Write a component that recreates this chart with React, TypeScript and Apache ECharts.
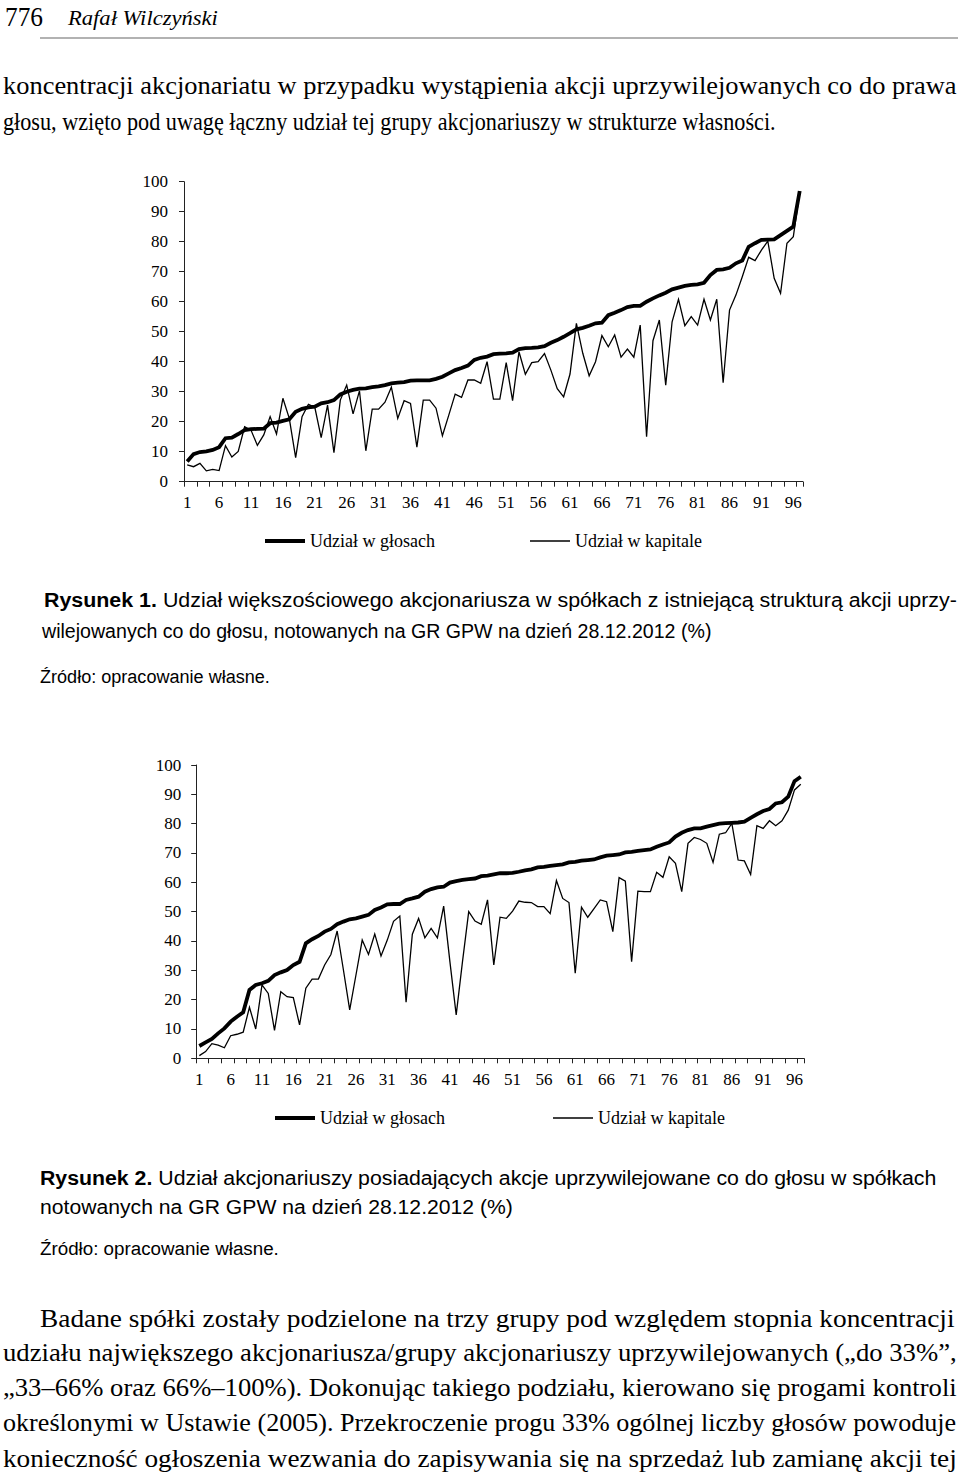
import React, { useEffect, useRef } from 'react';
import * as echarts from 'echarts';

// ---------- data ----------
const categories: string[] = Array.from({ length: 97 }, (_, i) => String(i + 1));

const votes1 = [
  6.7, 9.2, 9.9, 10.1, 10.6, 11.5, 14.5, 14.7, 15.9, 17.2, 17.5, 17.6, 17.7, 19.5, 19.7, 20.3, 20.8, 23.3, 24.3, 24.8,
  25.0, 26.1, 26.5, 27.2, 29.1, 30.0, 30.6, 31.0, 31.1, 31.5, 31.8, 32.2,
  32.8, 33.0, 33.2, 33.7, 33.8, 33.8, 33.8, 34.3, 35.0, 36.1, 37.2, 37.9, 38.7, 40.6, 41.3, 41.7, 42.5, 42.7,
  42.8, 43.0, 44.2, 44.5, 44.6, 44.8, 45.2, 46.3, 47.2, 48.3, 49.5, 50.8, 51.3, 52.0,
  52.8, 53.0, 55.5, 56.3, 57.2, 58.2, 58.6, 58.6, 60.0, 61.1, 62.1, 63.0, 64.1, 64.7, 65.3, 65.6, 65.8, 66.3,
  68.9, 70.6, 70.8, 71.3, 72.8, 73.7, 78.3, 79.5, 80.6, 80.7, 80.8, 82.2, 83.6, 85.0, 96.9,
];
const capital1 = [
  5.6, 5.0, 6.1, 3.6, 4.1, 3.7, 12.0, 8.2, 10.1, 18.3, 17.2, 12.1, 15.6, 21.7, 15.9, 27.8, 21.1, 8.0, 21.7, 25.8,
  24.8, 14.7, 25.5, 9.7, 27.2, 32.2, 22.6, 30.3, 10.3, 24.2, 24.2, 26.5,
  31.5, 21.1, 27.0, 26.1, 11.5, 27.2, 27.2, 24.5, 15.3, 22.2, 29.2, 28.1, 33.9, 33.9, 32.8, 40.0, 27.5, 27.5,
  39.7, 27.0, 43.3, 35.8, 39.7, 40.0, 42.7, 37.2, 31.0, 28.3, 35.9, 52.8, 42.8, 35.3,
  40.0, 48.7, 45.0, 48.9, 41.5, 44.2, 41.5, 52.2, 15.0, 47.0, 53.9, 32.2, 53.3, 60.8, 52.0, 55.0, 52.2, 60.8,
  53.9, 60.8, 33.0, 57.2, 62.2, 68.3, 74.8, 73.7, 77.2, 80.2, 67.8, 62.8, 79.5, 81.7, 96.5,
];
const votes2 = [
  4.2, 5.4, 6.6, 8.5, 10.2, 12.5, 14.2, 15.7, 23.3, 25.0, 25.6, 26.4, 28.4, 29.3, 30.1, 31.8, 32.9, 39.2, 40.6, 41.7,
  43.2, 44.1, 45.7, 46.6, 47.4, 47.7, 48.3, 48.9, 50.6, 51.4, 52.5, 52.6, 52.6,
  54.0, 54.5, 55.1, 56.8, 57.7, 58.3, 58.5, 59.9, 60.4, 60.8, 61.1, 61.3, 62.1, 62.3, 62.7, 63.1, 63.1, 63.2,
  63.6, 64.1, 64.4, 65.1, 65.3, 65.6, 65.9, 66.1, 66.8, 67.0, 67.4, 67.6, 67.8, 68.5,
  69.1, 69.3, 69.5, 70.2, 70.4, 70.7, 71.0, 71.2, 72.1, 72.9, 73.6, 75.6, 76.9, 77.8, 78.4, 78.4, 79.0, 79.5,
  80.0, 80.2, 80.3, 80.4, 80.7, 82.0, 83.2, 84.3, 85.0, 86.9, 87.3, 89.2, 94.5, 96.0,
];
const capital2 = [
  0.9, 2.3, 5.0, 4.5, 3.6, 7.7, 8.2, 8.9, 17.4, 10.0, 25.0, 22.1, 9.5, 22.7, 21.0, 20.7, 11.4, 23.9, 27.0, 27.0,
  31.8, 35.4, 43.4, 30.1, 16.5, 28.4, 40.3, 35.4, 42.4, 34.9, 40.3, 46.7, 48.5,
  19.1, 42.3, 47.7, 41.1, 44.3, 41.1, 51.9, 32.9, 14.8, 32.9, 50.0, 46.8, 45.7, 54.0, 31.8, 48.1, 47.7, 50.2,
  53.6, 53.2, 53.1, 51.7, 51.7, 49.3, 60.6, 54.5, 53.1, 29.0, 51.5, 48.1, 51.0, 54.0,
  53.4, 43.2, 61.6, 60.4, 32.9, 57.0, 56.8, 56.8, 63.4, 61.7, 68.7, 66.5, 56.8, 73.3, 75.3, 74.6, 73.3, 66.8,
  76.4, 76.9, 80.1, 67.6, 67.3, 62.7, 79.3, 78.4, 81.0, 79.3, 81.0, 84.6, 91.5, 93.4,
];

const seriesNames = ['Udział w głosach', 'Udział w kapitale'];

// ---------- page text ----------
type Seg = { text: string; bold?: boolean; italic?: boolean };
type Line = { segs: Seg[]; x: number; y: number; w: number; size: number; family: 'serif' | 'sans' };

const pageNumber = '776';
const author = 'Rafał Wilczyński';
const introLines = [
  'koncentracji akcjonariatu w przypadku wystąpienia akcji uprzywilejowanych co do prawa',
  'głosu, wzięto pod uwagę łączny udział tej grupy akcjonariuszy w strukturze własności.',
];
const caption1 = [
  ['Rysunek 1.', ' Udział większościowego akcjonariusza w spółkach z istniejącą strukturą akcji uprzy-'],
  ['', 'wilejowanych co do głosu, notowanych na GR GPW na dzień 28.12.2012 (%)'],
];
const caption2 = [
  ['Rysunek 2.', ' Udział akcjonariuszy posiadających akcje uprzywilejowane co do głosu w spółkach'],
  ['', 'notowanych na GR GPW na dzień 28.12.2012 (%)'],
];
const sourceText = 'Źródło: opracowanie własne.';
const bodyLines = [
  'Badane spółki zostały podzielone na trzy grupy pod względem stopnia koncentracji',
  'udziału największego akcjonariusza/grupy akcjonariuszy uprzywilejowanych („do 33%”,',
  '„33–66% oraz 66%–100%). Dokonując takiego podziału, kierowano się progami kontroli',
  'określonymi w Ustawie (2005). Przekroczenie progu 33% ogólnej liczby głosów powoduje',
  'konieczność ogłoszenia wezwania do zapisywania się na sprzedaż lub zamianę akcji tej',
];

const SERIF = '"Liberation Serif", "Times New Roman", serif';
const SANS = '"Liberation Sans", Arial, sans-serif';

function buildLines(): Line[] {
  const L: Line[] = [];
  L.push({ segs: [{ text: pageNumber }], x: 5, y: 17, w: 38, size: 28, family: 'serif' });
  L.push({ segs: [{ text: author, italic: true }], x: 68, y: 18, w: 150, size: 22, family: 'serif' });
  L.push({ segs: [{ text: introLines[0] }], x: 3, y: 86, w: 954, size: 25.5, family: 'serif' });
  L.push({ segs: [{ text: introLines[1] }], x: 3, y: 121, w: 773, size: 25.5, family: 'serif' });
  L.push({ segs: [{ text: caption1[0][0], bold: true }, { text: caption1[0][1] }], x: 44, y: 600, w: 913, size: 21, family: 'sans' });
  L.push({ segs: [{ text: caption1[1][1] }], x: 42, y: 631, w: 670, size: 21, family: 'sans' });
  L.push({ segs: [{ text: sourceText }], x: 40, y: 676, w: 230, size: 19, family: 'sans' });
  L.push({ segs: [{ text: caption2[0][0], bold: true }, { text: caption2[0][1] }], x: 40, y: 1178, w: 897, size: 21, family: 'sans' });
  L.push({ segs: [{ text: caption2[1][1] }], x: 40, y: 1207, w: 473, size: 21, family: 'sans' });
  L.push({ segs: [{ text: sourceText }], x: 40, y: 1248, w: 239, size: 19, family: 'sans' });
  const bx = [40, 3, 3, 3, 3];
  const bw = [915, 954, 954, 954, 954];
  bodyLines.forEach((t, i) => {
    L.push({ segs: [{ text: t }], x: bx[i], y: 1318 + i * 35, w: bw[i], size: 25.5, family: 'serif' });
  });
  return L;
}

function textElements(lines: Line[]): any[] {
  const canvas = document.createElement('canvas');
  const ctx = canvas.getContext('2d') as CanvasRenderingContext2D;
  const out: any[] = [];
  lines.forEach((ln) => {
    const fam = ln.family === 'serif' ? SERIF : SANS;
    const widths = ln.segs.map((s) => {
      ctx.font = `${s.italic ? 'italic ' : ''}${s.bold ? 'bold ' : ''}${ln.size}px ${fam}`;
      return ctx.measureText(s.text).width;
    });
    const total = widths.reduce((a, b) => a + b, 0) || 1;
    const k = ln.w / total;
    let cx = ln.x;
    ln.segs.forEach((s, i) => {
      out.push({
        type: 'text',
        x: cx,
        y: ln.y,
        scaleX: k,
        scaleY: 1,
        silent: true,
        style: {
          text: s.text,
          fontSize: ln.size,
          fontFamily: fam,
          fontWeight: s.bold ? 'bold' : 'normal',
          fontStyle: s.italic ? 'italic' : 'normal',
          fill: '#000',
          align: 'left',
          textAlign: 'left',
          verticalAlign: 'middle',
          textVerticalAlign: 'middle',
        },
      });
      cx += widths[i] * k;
    });
  });
  return out;
}

const AXIS_COLOR = '#222';

function xAxisCfg(gridIndex: number, margin: number) {
  return {
    type: 'category',
    gridIndex,
    data: categories,
    boundaryGap: true,
    axisLine: { show: true, lineStyle: { color: AXIS_COLOR, width: 1 } },
    axisTick: { show: true, interval: 1, length: 5, lineStyle: { color: AXIS_COLOR, width: 1 } },
    axisLabel: { interval: 4, fontFamily: SERIF, fontSize: 17, color: '#000', margin },
    splitLine: { show: false },
  };
}
function yAxisCfg(gridIndex: number, margin: number) {
  return {
    type: 'value',
    gridIndex,
    min: 0,
    max: 100,
    interval: 10,
    axisLine: { show: true, lineStyle: { color: AXIS_COLOR, width: 1 } },
    axisTick: { show: true, length: 5, lineStyle: { color: AXIS_COLOR, width: 1 } },
    axisLabel: { fontFamily: SERIF, fontSize: 17, color: '#000', margin },
    splitLine: { show: false },
  };
}

function lineSeries(name: string, data: number[], idx: number, thick: boolean) {
  return {
    name,
    type: 'line',
    xAxisIndex: idx,
    yAxisIndex: idx,
    data,
    symbol: 'none',
    silent: true,
    lineStyle: { color: '#000', width: thick ? 3.8 : 1.3, join: 'miter' },
    itemStyle: { color: '#000' },
    z: thick ? 2 : 3,
  };
}

function legendCfg(name: string, left: number, top: number, thick: boolean) {
  return {
    data: [name],
    left,
    top,
    padding: 0,
    icon: 'rect',
    itemWidth: 40,
    itemHeight: thick ? 4 : 1.5,
    itemGap: 0,
    selectedMode: false,
    itemStyle: { color: '#000' },
    textStyle: { fontFamily: SERIF, fontSize: 18, color: '#000' },
  };
}

export default function App() {
  const ref = useRef<HTMLDivElement>(null);
  useEffect(() => {
    document.body.style.margin = '0';
    if (!ref.current) return;
    const chart = echarts.init(ref.current, undefined, { renderer: 'svg', width: 960, height: 1472 });
    const option: any = {
      animation: false,
      backgroundColor: '#fff',
      grid: [
        { left: 184, top: 181.7, width: 618.9, height: 300 },
        { left: 196.2, top: 765, width: 607.7, height: 293.3 },
      ],
      xAxis: [xAxisCfg(0, 12.5), xAxisCfg(1, 13)],
      yAxis: [yAxisCfg(0, 16), yAxisCfg(1, 15)],
      legend: [
        legendCfg(seriesNames[0], 265, 532, true),
        legendCfg(seriesNames[1], 530, 532, false),
        legendCfg(seriesNames[0], 275, 1109, true),
        legendCfg(seriesNames[1], 553, 1109, false),
      ],
      series: [
        lineSeries(seriesNames[0], votes1, 0, true),
        lineSeries(seriesNames[1], capital1, 0, false),
        lineSeries(seriesNames[0], votes2, 1, true),
        lineSeries(seriesNames[1], capital2, 1, false),
      ],
      graphic: {
        elements: [
          {
            type: 'line',
            silent: true,
            shape: { x1: 40, y1: 38, x2: 958, y2: 38 },
            style: { stroke: '#666', lineWidth: 1.2 },
          },
          ...textElements(buildLines()),
        ],
      },
    };
    chart.setOption(option);
    return () => chart.dispose();
  }, []);
  return <div ref={ref} style={{ width: 960, height: 1472 }} />;
}
